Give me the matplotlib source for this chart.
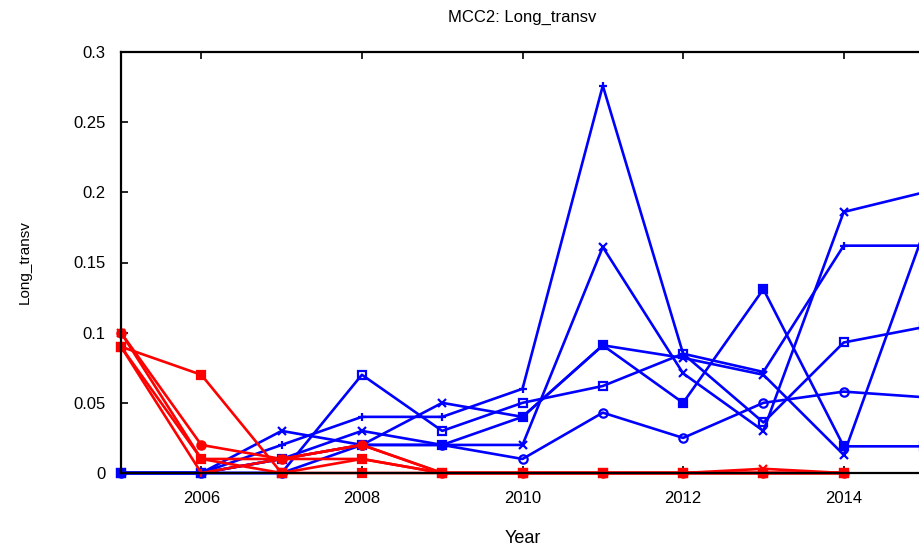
import numpy as np
import matplotlib.pyplot as plt
from matplotlib.ticker import FormatStrFormatter

plt.rcParams['font.family'] = ['Liberation Sans', 'DejaVu Sans']

years = np.arange(2005, 2016)

# blue series (one per site)
b1 = [0, 0, 0.02, 0.04, 0.04, 0.06, 0.276, 0.085, 0.072, 0.162, 0.162]
b2 = [0, 0, 0.01, 0.03, 0.02, 0.02, 0.161, 0.071, 0.03, 0.186, 0.2]
b3 = [0, 0, 0.01, 0.02, 0.02, 0.04, 0.091, 0.05, 0.131, 0.019, 0.019]
b4 = [0, 0, 0.0, 0.07, 0.03, 0.05, 0.062, 0.085, 0.036, 0.093, 0.104]
b5 = [0, 0, 0.03, 0.02, 0.05, 0.04, 0.091, 0.082, 0.07, 0.013, 0.172]
b6 = [0, 0, 0.0, 0.02, 0.02, 0.01, 0.043, 0.025, 0.05, 0.058, 0.054]

# red series
r_years = np.arange(2005, 2015)
r1 = [0.09, 0.07, 0.0, 0.0, 0.0, 0.0, 0.0, 0.0, 0.0, 0.0]
r2 = [0.1, 0.02, 0.01, 0.02, 0.0, 0.0, 0.0, 0.0, 0.0, 0.0]
r3 = [0.1, 0.01, 0.01, 0.01, 0.0, 0.0, 0.0, 0.0, 0.003, 0.0]
r4 = [0.09, 0.01, 0.0, 0.01, 0.0, 0.0, 0.0, 0.0, 0.0, 0.0]
r5 = [0.09, 0.0, 0.01, 0.02, 0.0, 0.0, 0.0, 0.0, 0.0, 0.0]

fig = plt.figure(figsize=(9.19, 5.46), dpi=100)
ax = fig.add_axes([121/919, 1-473/546, (924-121)/919, (473-52)/546])

blue = (0, 0, 1)
red = (1, 0, 0)

blues = [(b1, '+', 'full'), (b2, 'x', 'full'), (b3, 's', 'full'),
         (b4, 's', 'none'), (b5, 'x', 'full'), (b6, 'o', 'none')]
for vals, m, fill in blues:
    ax.plot(years, vals, color=blue, lw=1.9, marker=m, ms=6, mew=1.6,
            mfc=blue if fill == 'full' else 'none', clip_on=False)

reds = [(r1, 's'), (r2, 'o'), (r3, 'x'), (r4, 's'), (r5, '+')]
for vals, m in reds:
    ax.plot(r_years, vals, color=red, lw=1.9, marker=m, ms=6, mew=1.6,
            mfc=red, clip_on=False)

ax.set_xlim(2005, 2015)
ax.set_ylim(0, 0.3)
ax.set_xticks([2006, 2008, 2010, 2012, 2014])
ax.set_yticks([0, 0.05, 0.1, 0.15, 0.2, 0.25, 0.3])
ax.yaxis.set_major_formatter(FormatStrFormatter('%g'))
ax.tick_params(direction='in', top=True, right=False, length=5, width=1.2,
               labelsize=12)
ax.tick_params(axis='x', pad=13)
ax.tick_params(axis='y', pad=11)
for s in ax.spines.values():
    s.set_linewidth(1.6)

ax.set_title('MCC2: Long_transv', fontsize=12, pad=22)
ax.set_xlabel('Year', fontsize=13, labelpad=17)
ax.set_ylabel('Long_transv', fontsize=11, labelpad=30)

fig.savefig('out.png', dpi=100)
